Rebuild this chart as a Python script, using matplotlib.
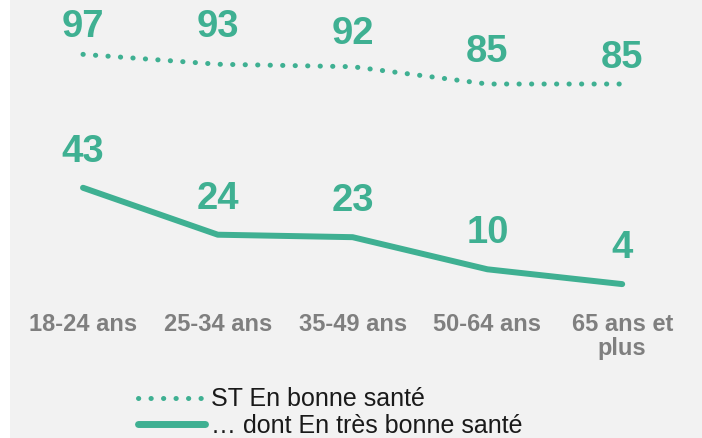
import numpy as np
import matplotlib.pyplot as plt
from matplotlib.patches import Rectangle
from matplotlib.lines import Line2D

plt.rcParams['font.family'] = ['Liberation Sans', 'DejaVu Sans']

# data
categories = ["18-24 ans", "25-34 ans", "35-49 ans", "50-64 ans", "65 ans et\nplus"]
bonne_sante = [97, 93, 92, 85, 85]
tres_bonne_sante = [43, 24, 23, 10, 4]
series_names = ["ST En bonne santé", "\u2026 dont En très bonne santé"]

# label offsets above the points (pixels, baseline)
off_bonne = [17, 27, 23, 22, 16]
off_tres = [26, 26, 26, 26, 26]

teal = "#3fb092"
grey = "#7f7f7f"
bg = "#f2f2f2"

fig = plt.figure(figsize=(7.02, 4.38), dpi=100, facecolor=bg)
fig.patches.append(Rectangle((0, 0), 10 / 702, 1, transform=fig.transFigure,
                             facecolor="white", edgecolor="none", zorder=-1))

ax = fig.add_axes([15.6 / 702, 1 - 294 / 438, 674 / 702, 294 / 438])
ax.set_facecolor("none")
ax.set_xlim(-0.5, 4.5)
ax.set_ylim(0, 119)
for s in ax.spines.values():
    s.set_visible(False)
ax.set_yticks([])

x = np.arange(len(categories))

dot_style = (0, (0.05, 2.45))
ax.plot(x, bonne_sante, color=teal, linewidth=3.6, linestyle=dot_style,
        dash_capstyle="round", dash_joinstyle="round")
ax.plot(x, tres_bonne_sante, color=teal, linewidth=4.3,
        solid_capstyle="round", solid_joinstyle="round")

for xi, v, o in zip(x, bonne_sante, off_bonne):
    ax.annotate(str(v), (xi, v), xytext=(0, o * 0.72), textcoords="offset points",
                ha="center", va="baseline", fontsize=27.5, fontweight="bold", color=teal)
for xi, v, o in zip(x, tres_bonne_sante, off_tres):
    ax.annotate(str(v), (xi, v), xytext=(0, o * 0.72), textcoords="offset points",
                ha="center", va="baseline", fontsize=27.5, fontweight="bold", color=teal)

ax.set_xticks(x)
ax.set_xticklabels(categories, fontsize=17, fontweight="bold", color=grey,
                   linespacing=1.05)
ax.tick_params(axis="x", length=0, pad=13.5)

handles = [
    Line2D([], [], color=teal, linewidth=3.6, linestyle=dot_style,
           dash_capstyle="round"),
    Line2D([], [], color=teal, linewidth=5, solid_capstyle="round"),
]
fig.legend(handles, series_names, loc="upper left",
           bbox_to_anchor=(125 / 702, 1 - 375 / 438), frameon=False,
           fontsize=18, handlelength=2.7, handletextpad=0.25, labelspacing=0.1,
           borderpad=0, labelcolor="#1a1a1a")

fig.savefig("out.png", dpi=100, facecolor=bg)
